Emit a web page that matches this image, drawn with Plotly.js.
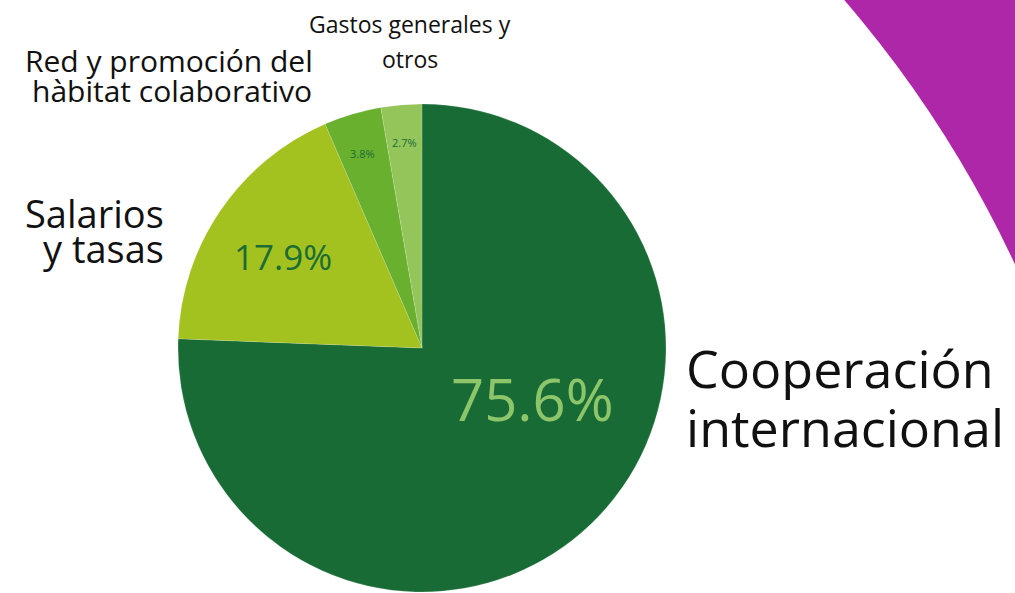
<!DOCTYPE html>
<html>
<head>
<meta charset="utf-8">
<script src="https://cdn.plot.ly/plotly-3.0.1.min.js"></script>
<style>
html,body{margin:0;padding:0;background:#fff;}
#chart{width:1015px;height:593px;}
</style>
</head>
<body>
<div id="chart"></div>
<script>
// ---- data ----
const categories = ["Cooperación internacional", "Salarios y tasas", "Red y promoción del hàbitat colaborativo", "Gastos generales y otros"];
const values = [75.6, 17.9, 3.8, 2.7];
const sliceColors = ["#186b35", "#a3c21f", "#69b02f", "#93c55b"];

// ---- layout helpers (pixel -> paper) ----
const W = 1015, H = 593;
const px = x => x / W;
const py = y => 1 - y / H;
const FONT = '"Open Sans", "Noto Sans", sans-serif';
const NARROW = '"Liberation Sans Narrow", "Open Sans", sans-serif';

const pct = v => v.toFixed(1) + '%';

const ann = [];
function add(text, x, y, size, color, xanchor, family) {
  ann.push({text: text, x: px(x), y: py(y), xref: 'paper', yref: 'paper',
    xanchor: xanchor || 'center', yanchor: 'middle', showarrow: false,
    font: {family: family || FONT, size: size, color: color}});
}

// category labels (split into lines)
add("Gastos generales y", 410, 24, 23, "#111", 'center', NARROW);
add("otros", 410, 59, 23, "#111", 'center', NARROW);
add("Red y promoción del", 169, 61, 30, "#111", 'center');
add("hàbitat colaborativo", 172, 90, 30, "#111", 'center');
add("Salarios", 166, 213, 38, "#111", 'right');
add("y tasas", 166, 248, 38, "#111", 'right');
add("Cooperación", 684, 367, 52, "#111", 'left');
add("internacional", 684, 426, 52, "#111", 'left');

// percent labels from values
add(pct(values[0]), 532, 398, 58, "#8cc56a");
add(pct(values[1]), 283, 257, 35, "#1b6c35");
add(pct(values[2]), 362, 153, 11, "#1b6c35");
add(pct(values[3]), 404, 142, 11, "#1b6c35");

const trace = {
  type: 'pie',
  labels: categories,
  values: values,
  sort: false,
  direction: 'clockwise',
  rotation: 0,
  textinfo: 'none',
  hoverinfo: 'label+percent',
  marker: {colors: sliceColors, line: {color: 'rgba(255,255,255,0.25)', width: 0.6}},
  domain: {x: [px(178), px(666)], y: [py(592), py(104)]},
  showlegend: false
};

const layout = {
  width: W, height: H,
  margin: {l: 0, r: 0, t: 0, b: 0},
  paper_bgcolor: '#ae27a8',
  plot_bgcolor: 'rgba(0,0,0,0)',
  showlegend: false,
  annotations: ann,
  shapes: [{
    type: 'circle', xref: 'paper', yref: 'paper', layer: 'below',
    x0: px(-24 - 1146), x1: px(-24 + 1146),
    y0: py(748 + 1146), y1: py(748 - 1146),
    fillcolor: '#ffffff', line: {width: 0}
  }]
};

Plotly.newPlot('chart', [trace], layout, {displayModeBar: false, staticPlot: true});
</script>
</body>
</html>
